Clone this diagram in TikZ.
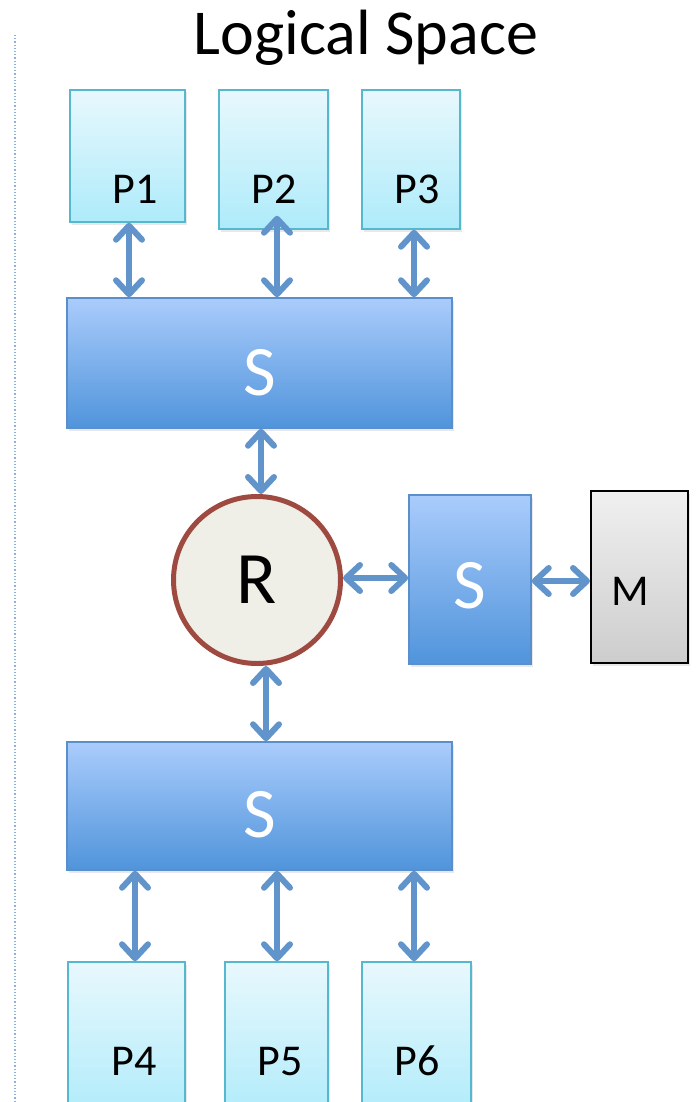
\documentclass[tikz,border=0pt]{standalone}
\usepackage{fontspec}
\setmainfont{Carlito}
\usepackage{xcolor}
\usepackage{tikz}
\usetikzlibrary{arrows.meta}
\usetikzlibrary{positioning}
\usetikzlibrary{shadows}
\definecolor{pline}{HTML}{55B8CE}
\definecolor{ptop}{HTML}{E8F8FD}
\definecolor{pbot}{HTML}{AEEBFA}
\definecolor{sline}{HTML}{5B8FCB}
\definecolor{stop}{HTML}{AACCFC}
\definecolor{sbot}{HTML}{5094DB}
\definecolor{rline}{HTML}{9E4A40}
\definecolor{rfill}{HTML}{F0EFE7}
\definecolor{mtop}{HTML}{F0F0F0}
\definecolor{mbot}{HTML}{CDCDCD}
\definecolor{linkc}{HTML}{6294CC}
\definecolor{dotc}{HTML}{8EAEDB}
\tikzset{>={Straight Barb[length=14pt,width=26pt,round]}}
\tikzstyle{shade} = [drop shadow={opacity=0.18, shadow xshift=1.5pt, shadow yshift=-2.5pt}]
\tikzstyle{pbox} = [rectangle, draw=pline, line width=1.5pt, top color=ptop, bottom color=pbot, inner sep=0pt, shade]
\tikzstyle{sbox} = [rectangle, draw=sline, line width=1.5pt, top color=stop, bottom color=sbot, inner sep=0pt, shade]
\tikzstyle{ptext} = [anchor=base, inner sep=0pt, font=\fontsize{44}{50}\selectfont]
\tikzstyle{stext} = [anchor=base, inner sep=0pt, text=white, font=\fontsize{71}{80}\selectfont]
\tikzstyle{link} = [<->, draw=linkc, line width=6pt]

\begin{document}
\begin{tikzpicture}[x=1pt, y=-1pt]
\useasboundingbox (0,0) rectangle (698,1102);
\clip (0,0) rectangle (698,1102);
\draw [dotted, draw=dotc, line width=1.2pt] (15,35) -- (15,1102);
\node [anchor=base, inner sep=0pt, font=\fontsize{64}{70}\selectfont] (T) at (366,55) {Logical Space};

% top row
\node [pbox, minimum width=115, minimum height=132] (P1) at (127.5,156) {};
\node [pbox, minimum width=109, minimum height=139] (P2) at (273.5,159.5) {};
\node [pbox, minimum width=98, minimum height=139] (P3) at (411,159.5) {};
\node [ptext] (P1t) at (135,204) {P1};
\node [ptext] (P2t) at (274,204) {P2};
\node [ptext] (P3t) at (417,204) {P3};
\node [sbox, minimum width=385, minimum height=130] (S1) at (259.5,363) {};
\node [stext] (S1t) at (260,395) {S};

% middle
\node [circle, draw=rline, line width=5pt, fill=rfill, minimum size=167, inner sep=0pt,
       font=\fontsize{74}{80}\selectfont] (R) at (257,580) {R};
\node [sbox, minimum width=122, minimum height=169] (S2) at (470,579.5) {};
\node [stext] (S2t) at (470,608) {S};
\node [rectangle, draw=black, line width=2pt, top color=mtop, bottom color=mbot, inner sep=0pt,
       minimum width=97, minimum height=172, shade] (M) at (639.5,577) {};
\node [ptext] (Mt) at (630,605) {M};

% bottom row
\node [sbox, minimum width=385, minimum height=128] (S3) at (259.5,806) {};
\node [stext] (S3t) at (260,837) {S};
\node [pbox, minimum width=117, minimum height=160] (P4) at (126.5,1042) {};
\node [pbox, minimum width=103, minimum height=160] (P5) at (276.5,1042) {};
\node [pbox, minimum width=109, minimum height=160] (P6) at (416.5,1042) {};
\node [ptext] (P4t) at (134,1075) {P4};
\node [ptext] (P5t) at (280,1075) {P5};
\node [ptext] (P6t) at (417,1075) {P6};

\draw [link] ([xshift=1.5pt]P1.south) to ([xshift=1.5pt]P1.south |- S1.north);
\draw [link, shorten <=-14pt] ([xshift=3.5pt]P2.south) to ([xshift=3.5pt]P2.south |- S1.north);
\draw [link] ([xshift=3pt]P3.south) to ([xshift=3pt]P3.south |- S1.north);
\draw [link] ([xshift=1.5pt]S1.south) to ([xshift=1.5pt]S1.south |- R.north);
\draw [link] ([yshift=2pt]R.east) to ([yshift=2pt]R.east -| S2.west);
\draw [link] ([yshift=-1.5pt]S2.east) to ([yshift=-1.5pt]S2.east -| M.west);
\draw [link] ([xshift=9pt]R.south) to ([xshift=9pt]R.south |- S3.north);
\draw [link] ([xshift=8.5pt]S3.south -| P4.north) to ([xshift=8.5pt]P4.north);
\draw [link] ([xshift=0.5pt]S3.south -| P5.north) to ([xshift=0.5pt]P5.north);
\draw [link] ([xshift=-2.5pt]S3.south -| P6.north) to ([xshift=-2.5pt]P6.north);
\end{tikzpicture}
\end{document}
